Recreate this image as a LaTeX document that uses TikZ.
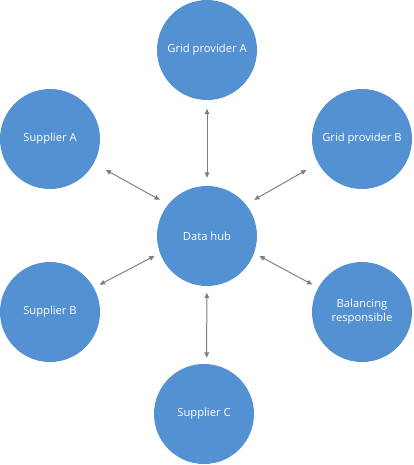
\documentclass[tikz,border=0pt]{standalone}
\usepackage{fontspec}
\setmainfont{Open Sans}
\usepackage{xcolor}
\usetikzlibrary{positioning,arrows.meta}
\definecolor{roleblue}{HTML}{5391D3}
\definecolor{linkgray}{HTML}{808080}

\tikzset{
  party/.style={circle,fill=roleblue,text=white,minimum size=75pt,inner sep=0pt,
    align=center,font=\fontsize{8.4}{10.5}\selectfont},
  link/.style={{Triangle[length=4pt,width=3.5pt]}-{Triangle[length=4pt,width=3.5pt]},
    color=linkgray,line width=0.75pt}
}

\begin{document}
\begin{tikzpicture}[x=0.75pt,y=-0.75pt,on grid]
  \useasboundingbox (0,0) rectangle (414,465);
  \node[party] (hub) at (207,236) {Data hub};
  \node[party] (gridA) [above=139.5pt of hub] {Grid provider A};
  \node[party] (supA)  [above left=72.75pt and 117.75pt of hub] {Supplier A};
  \node[party] (gridB) [above right=72.75pt and 116.25pt of hub] {Grid provider B};
  \node[party] (supB)  [below left=57pt and 117.75pt of hub] {Supplier B};
  \node[party] (bal)   [below right=57pt and 116.25pt of hub] {Balancing\\responsible};
  \node[party] (supC)  [below=133.5pt of hub,xshift=-2.25pt] {Supplier C};
  \path[link] (gridA) edge[shorten <=6.4pt,shorten >=6pt] (hub);
  \path[link] (supA.-29) edge[shorten <=10pt,shorten >=7pt] (hub.141);
  \path[link] (gridB.209) edge[shorten <=10pt,shorten >=7pt] (hub.39);
  \path[link] (supB.29) edge[shorten <=4.8pt,shorten >=4.4pt] (hub.200);
  \path[link] (bal.151) edge[shorten <=4.8pt,shorten >=4.4pt] (hub.-20);
  \path[link] (hub) edge[shorten <=4.9pt,shorten >=4.5pt] (supC.87);
\end{tikzpicture}
\end{document}
